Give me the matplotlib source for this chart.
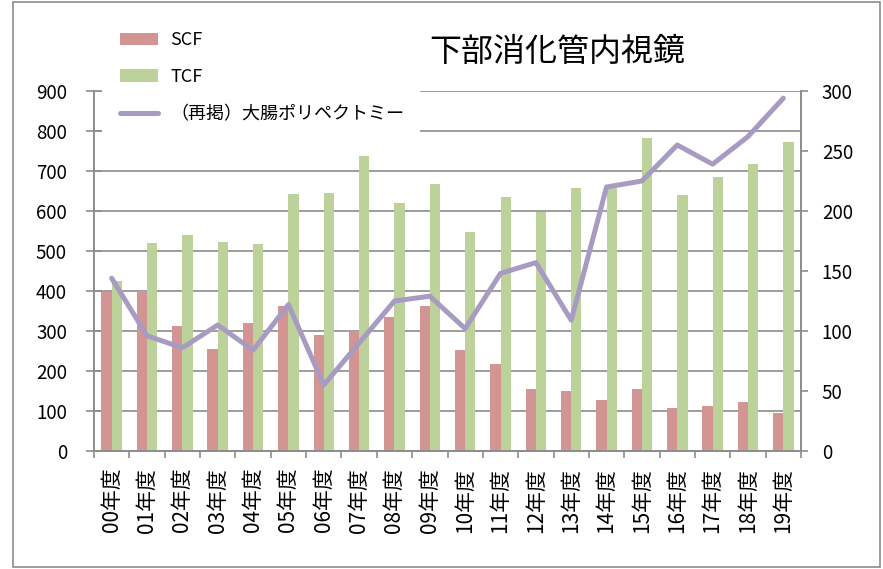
import numpy as np
import matplotlib
matplotlib.use("Agg")
import matplotlib.pyplot as plt
from matplotlib.patches import Patch, Rectangle
from matplotlib.lines import Line2D

plt.rcParams['font.family'] = ['Noto Sans CJK JP', 'DejaVu Sans']

# 年度別件数
years = ['00年度', '01年度', '02年度', '03年度', '04年度', '05年度', '06年度',
         '07年度', '08年度', '09年度', '10年度', '11年度', '12年度', '13年度',
         '14年度', '15年度', '16年度', '17年度', '18年度', '19年度']
scf = [398, 400, 312, 256, 321, 363, 289, 301, 335, 363,
       252, 218, 155, 150, 128, 155, 108, 113, 123, 95]
tcf = [424, 521, 539, 523, 518, 642, 646, 737, 621, 668,
       548, 634, 598, 657, 658, 783, 639, 686, 717, 773]
polypectomy = [144, 96, 86, 105, 84, 122, 55, 90, 125, 129,
               102, 148, 157, 109, 220, 225, 255, 239, 262, 294]

C_SCF = '#D39594'
C_TCF = '#BDD29B'
C_LINE = '#A89BC2'
C_GRAY = '#8C8C8C'

W, H = 883, 569
fig = plt.figure(figsize=(W / 100, H / 100), dpi=100)


def fx(x):
    return x / W


def fy(y):
    return 1 - y / H


ax = fig.add_axes([fx(94), fy(451), (801 - 94) / W, (451 - 91) / H])
x = np.arange(len(years))
bw = 0.29
ax.bar(x - bw, scf, width=bw, align='edge', color=C_SCF, zorder=2)
ax.bar(x, tcf, width=bw, align='edge', color=C_TCF, zorder=2)

ax.set_xlim(-0.5, len(years) - 0.5)
ax.set_ylim(0, 900)
ax.set_yticks(range(0, 901, 100))
ax.yaxis.grid(True, color=C_GRAY, lw=1.2)
ax.set_axisbelow(True)

ax.set_xticks(x)
ax.set_xticklabels(years, rotation=90, fontsize=15)
ax.set_xticks(np.arange(-0.5, len(years), 1), minor=True)
ax.tick_params(axis='x', which='major', length=0, pad=12)
ax.tick_params(axis='x', which='minor', length=5, width=1.2, color=C_GRAY)
ax.tick_params(axis='y', direction='inout', length=11, width=1.2,
               color=C_GRAY, labelsize=13.5, pad=14)

for s in ['left', 'right', 'bottom']:
    ax.spines[s].set_color(C_GRAY)
    ax.spines[s].set_linewidth(1.2)
ax.spines['top'].set_visible(False)

# 大腸ポリペクトミーは右軸
ax2 = ax.twinx()
ax2.plot(x, polypectomy, color=C_LINE, lw=3.6, solid_capstyle='round',
         solid_joinstyle='round', zorder=3)
ax2.set_ylim(0, 300)
ax2.set_yticks(range(0, 301, 50))
ax2.tick_params(axis='y', direction='out', length=5, width=1.2,
                color=C_GRAY, labelsize=13.5, pad=10)
for s in ['left', 'right', 'bottom']:
    ax2.spines[s].set_color(C_GRAY)
    ax2.spines[s].set_linewidth(1.2)
ax2.spines['top'].set_visible(False)

# 凡例の背景
fig.patches.append(Rectangle((fx(102), fy(136)), (420 - 102) / W, (136 - 18) / H,
                             transform=fig.transFigure, facecolor='white',
                             edgecolor='none', zorder=4))

handles = [Patch(facecolor=C_SCF), Patch(facecolor=C_TCF),
           Line2D([0], [0], color=C_LINE, lw=3.6, solid_capstyle='round')]
labels = ['SCF', 'TCF', '（再掲）大腸ポリペクトミー']
leg = fig.legend(handles, labels, loc='upper left',
                 bbox_to_anchor=(fx(120), fy(31)), frameon=False, fontsize=13,
                 handlelength=2.1, handleheight=0.67, handletextpad=0.67,
                 labelspacing=1.05, borderpad=0, borderaxespad=0)
leg.set_zorder(5)

fig.text(fx(557), fy(52), '下部消化管内視鏡', ha='center', va='center', fontsize=23)

# 外枠
fig.patches.append(Rectangle((fx(13), fy(567)), (880 - 13) / W, (567 - 1.5) / H,
                             transform=fig.transFigure, facecolor='none',
                             edgecolor=C_GRAY, lw=1.2, zorder=6))

fig.savefig('out.png', dpi=100)
